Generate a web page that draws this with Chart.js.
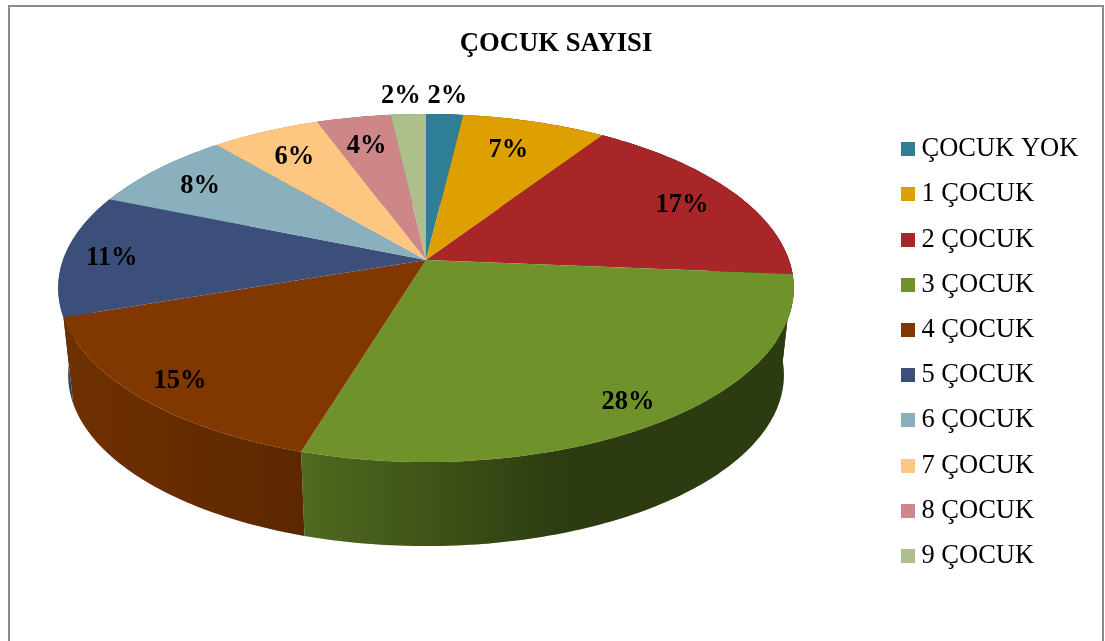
<!DOCTYPE html>
<html>
<head>
<meta charset="utf-8">
<style>
  html, body { margin: 0; padding: 0; background: #fff; overflow: hidden; }
  canvas { display: block; }
</style>
<script src="https://cdn.jsdelivr.net/npm/chart.js@4"></script>
</head>
<body>
<canvas id="grafico" width="1105" height="641"></canvas>
<script>
const categorias = ["ÇOCUK YOK", "1 ÇOCUK", "2 ÇOCUK", "3 ÇOCUK", "4 ÇOCUK", "5 ÇOCUK", "6 ÇOCUK", "7 ÇOCUK", "8 ÇOCUK", "9 ÇOCUK"];
const valores = [1.9, 7.4, 17.0, 28.4, 15.1, 11.4, 7.6, 5.6, 3.8, 1.8];
const cores = ["#2e7f96", "#dea000", "#a82628", "#6f932a", "#803700", "#3c4f7a", "#8aafbd", "#fdc681", "#cf8689", "#adc08b"];
// distancia do rotulo ao centro, 1 = borda da fatia
const raioRotulo = [1.17, 0.76, 0.83, 0.875, 0.875, 0.87, 0.83, 0.8, 0.8, 1.17];
// ajuste fino dos rotulos em pixels
const ajusteX = [0, -3, 0, 0, 0, 0, 0, 0, 0, -5];
const ajusteY = [0, -4, 0, 0, 0, 0, 0, 0, 0, 0];

// perspectiva da pizza 3D
const pizza = { cx: 426, cy: 260, rx: 363, ry: 169.5, k: 0.161 };
const parede = { sx: 0.973, sy: 0.983, topo: 288, base: 375 };

function projetar(ang, r) {
  const t = ang + Math.PI / 2;
  const u = Math.sin(t), v = -Math.cos(t);
  const d = 1 - pizza.k * r * v;
  return { x: pizza.cx + pizza.rx * r * u / d, y: pizza.cy + pizza.ry * r * v / d };
}

function abaixar(p) {
  return { x: pizza.cx + (p.x - pizza.cx) * parede.sx, y: parede.base + (p.y - parede.topo) * parede.sy };
}

function amostrar(arc) {
  const pts = [];
  const n = Math.max(4, Math.ceil((arc.endAngle - arc.startAngle) * 60));
  for (let i = 0; i <= n; i++) {
    pts.push(projetar(arc.startAngle + (arc.endAngle - arc.startAngle) * i / n, 1));
  }
  return pts;
}

function quadrado(cor) {
  const c = document.createElement("canvas");
  c.width = 14;
  c.height = 14;
  const g = c.getContext("2d");
  g.fillStyle = cor;
  g.fillRect(0, 0, 14, 14);
  return c;
}

const pizza3d = {
  id: "pizza3d",
  beforeDraw(chart) {
    const ctx = chart.ctx;
    ctx.save();
    ctx.fillStyle = "#fff";
    ctx.fillRect(0, 0, chart.width, chart.height);
    ctx.strokeStyle = "#8c8c8c";
    ctx.lineWidth = 2;
    ctx.strokeRect(9, 6, 1094, 700);
    ctx.restore();
  },
  beforeDatasetDraw(chart) {
    const ctx = chart.ctx;
    const arcs = chart.getDatasetMeta(0).data;

    // sombra das paredes, da esquerda para a direita
    const sombra = ctx.createLinearGradient(68, 0, 793, 0);
    sombra.addColorStop(0, "rgba(0,0,0,0.13)");
    sombra.addColorStop(0.32, "rgba(0,0,0,0.28)");
    sombra.addColorStop(0.69, "rgba(0,0,0,0.6)");
    sombra.addColorStop(1, "rgba(0,0,0,0.6)");

    const ordem = arcs.map((a) => a).sort((a, b) => {
      return projetar((a.startAngle + a.endAngle) / 2, 1).y - projetar((b.startAngle + b.endAngle) / 2, 1).y;
    });

    ctx.save();
    ordem.forEach((arc) => {
      const pts = amostrar(arc);
      ctx.beginPath();
      pts.forEach((p, i) => (i ? ctx.lineTo(p.x, p.y) : ctx.moveTo(p.x, p.y)));
      pts.slice().reverse().forEach((p) => {
        const b = abaixar(p);
        ctx.lineTo(b.x, b.y);
      });
      ctx.closePath();
      ctx.fillStyle = arc.options.backgroundColor;
      ctx.fill();
      ctx.fillStyle = sombra;
      ctx.fill();
    });

    // topo
    arcs.forEach((arc) => {
      ctx.beginPath();
      ctx.moveTo(pizza.cx, pizza.cy);
      amostrar(arc).forEach((p) => ctx.lineTo(p.x, p.y));
      ctx.closePath();
      ctx.fillStyle = arc.options.backgroundColor;
      ctx.fill();
    });

    // rotulos
    ctx.fillStyle = "#000";
    ctx.font = "bold 26.5px 'Liberation Serif'";
    ctx.textAlign = "center";
    ctx.textBaseline = "middle";
    arcs.forEach((arc, i) => {
      const p = projetar((arc.startAngle + arc.endAngle) / 2, raioRotulo[i]);
      ctx.fillText(Math.round(valores[i]) + "%", p.x + ajusteX[i], p.y + 3 + ajusteY[i]);
    });
    ctx.restore();
    return false; // a pizza ja foi desenhada aqui
  },
};

new Chart(document.getElementById("grafico"), {
  type: "pie",
  data: {
    labels: categorias,
    datasets: [{ data: valores, backgroundColor: cores, borderWidth: 0 }],
  },
  plugins: [pizza3d],
  options: {
    responsive: false,
    animation: false,
    events: [],
    layout: { padding: { left: 23.7, right: 16.7, top: 0, bottom: 53 } },
    plugins: {
      tooltip: { enabled: false },
      title: {
        display: true,
        text: "ÇOCUK SAYISI",
        color: "#000",
        font: { family: "'Liberation Serif'", size: 26.7, weight: "bold" },
        padding: { top: 28, bottom: 6 },
      },
      legend: {
        position: "right",
        align: "end",
        labels: {
          color: "#000",
          font: { family: "'Liberation Serif'", size: 26.5 },
          boxWidth: 1,
          usePointStyle: true,
          padding: 18.7,
          generateLabels: () => categorias.map((text, i) => ({
            text,
            index: i,
            pointStyle: quadrado(cores[i]),
            fillStyle: cores[i],
            strokeStyle: cores[i],
            lineWidth: 0,
            fontColor: "#000",
          })),
        },
      },
    },
  },
});
</script>
</body>
</html>
